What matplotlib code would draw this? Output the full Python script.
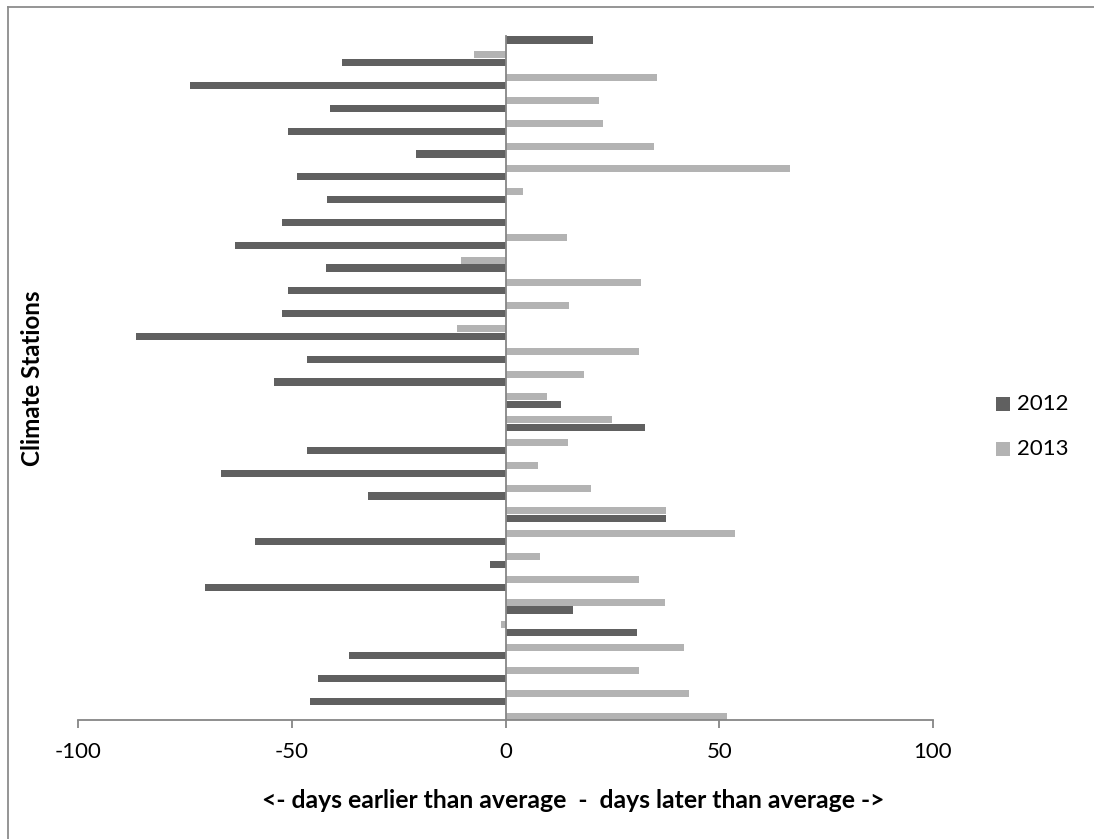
import numpy as np
import matplotlib
matplotlib.use("Agg")
import matplotlib.pyplot as plt
from matplotlib.lines import Line2D
from matplotlib.patches import Rectangle

plt.rcParams['font.family'] = ['Lato', 'DejaVu Sans']

# values, stations listed top to bottom
vals_2012 = [20.5, -38.4, -73.9, -41.1, -51.0, -21.1, -48.9, -41.9, -52.3, -63.4,
             -42.1, -50.9, -52.3, -86.6, -46.5, -54.2, 13.0, 32.6, -46.5, -66.6,
             -32.2, 37.6, -58.8, -3.6, -70.4, 15.7, 30.7, -36.6, -43.9, -45.8]
vals_2013 = [-7.4, 35.4, 21.8, 22.7, 34.7, 66.6, 4.0, 0.0, 14.4, -10.5,
             31.7, 14.9, -11.5, 31.2, 18.3, 9.6, 24.9, 14.6, 7.5, 20.0,
             37.6, 53.6, 7.9, 31.3, 37.2, -1.2, 41.7, 31.3, 43.0, 51.9]
series_names = ['2012', '2013']
colors = ['#606060', '#b3b3b3']
xticks = [-100, -50, 0, 50, 100]

W, H = 1094, 839
fig = plt.figure(figsize=(W / 100, H / 100), dpi=100)

# plot area in pixels
x0, x1 = 78.5, 933
y_top, y_bot = 36, 720
ax = fig.add_axes([x0 / W, 1 - y_bot / H, (x1 - x0) / W, (y_bot - y_top) / H])

n = len(vals_2012)
pos = np.arange(n)
ax.barh(pos + 0.175, vals_2012, height=0.31, color=colors[0], linewidth=0)
ax.barh(pos + 0.83, vals_2013, height=0.31, color=colors[1], linewidth=0)

ax.set_ylim(n, 0)
ax.set_xlim(-100, 100)

axis_col = '#868686'
for s in ['top', 'right']:
    ax.spines[s].set_visible(False)
ax.spines['left'].set_position(('data', 0))
ax.spines['left'].set_color(axis_col)
ax.spines['left'].set_linewidth(1.3)
ax.spines['bottom'].set_color(axis_col)
ax.spines['bottom'].set_linewidth(1.3)

ax.set_yticks([])
ax.set_xticks(xticks)
ax.set_xticklabels([str(t) for t in xticks])
ax.tick_params(axis='x', direction='out', length=5.5, width=1.3, color=axis_col,
               labelsize=16, pad=10, labelcolor='black')

# axis titles
fig.text(573 / W, 1 - 800 / H,
         '<- days earlier than average  -  days later than average ->',
         ha='center', va='center', fontsize=17.8, fontweight='bold')
fig.text(33 / W, 1 - 378 / H, 'Climate Stations', rotation=90,
         ha='center', va='center', fontsize=17.4, fontweight='bold')

# legend
for i, (name, c) in enumerate(zip(series_names, colors)):
    yc = 404 + 45 * i
    fig.patches.append(Rectangle((996 / W, 1 - (yc + 7) / H), 14 / W, 14 / H,
                                 transform=fig.transFigure, facecolor=c,
                                 edgecolor='none'))
    fig.text(1017 / W, 1 - yc / H, name, ha='left', va='center', fontsize=16)

# chart border (top and left edges visible)
fig.add_artist(Line2D([8 / W, 1.0], [1 - 7 / H, 1 - 7 / H],
                      transform=fig.transFigure, color='#8c8c8c', linewidth=1.3))
fig.add_artist(Line2D([8 / W, 8 / W], [0.0, 1 - 7 / H],
                      transform=fig.transFigure, color='#8c8c8c', linewidth=1.3))

fig.savefig('out.png', dpi=100)
